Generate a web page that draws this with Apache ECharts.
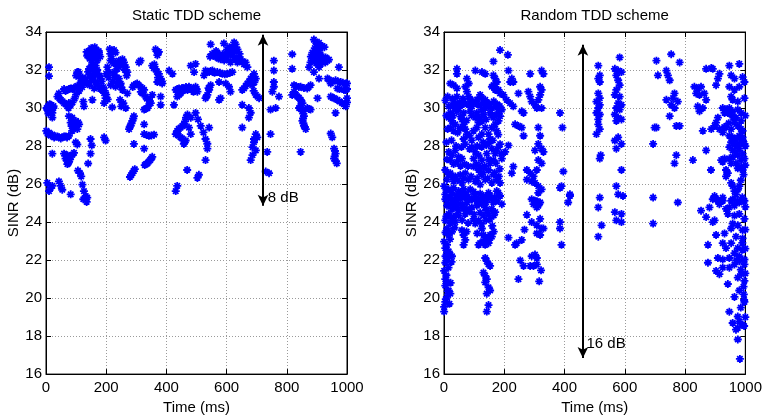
<!DOCTYPE html>
<html><head><meta charset="utf-8">
<script src="https://cdn.jsdelivr.net/npm/echarts/dist/echarts.min.js"></script>
<style>html,body{margin:0;padding:0;background:#fff}#c{width:765px;height:420px}</style>
</head><body><div id="c"></div>
<script>
// Static TDD scheme: [time (ms), SINR (dB)]
const staticPoints = [
[10,32.15],[10,31.68],[6.6,30.09],[15.5,30.17],[24.4,30.0],[10,29.83],[21,29.74],[4.4,29.92],[21,29.5],
[1,28.8],[10,28.7],[15.5,28.55],[21,28.6],[32,28.5],[43,28.46],[54,28.46],[65,28.5],[76,28.54],[21,27.6],
[43,26.14],[49,25.9],[54,25.7],[4.4,26.06],[15.5,25.8],[10,25.63],[21,25.9],[82,25.46],
[38,30.6],[49,30.43],[60,30.26],[71,30.09],[82,30.17],[43,30.77],[76,30.26],
[71,30.95],[82,31.03],[93,31.07],[104,31.17],[115,31.24],[126,31.34],[104,31.89],[110,31.72],[115,31.55],
[76,29.57],[87,29.49],[82,29.23],[99,29.32],[110,29.14],[93,28.97],[104,28.89],[87,28.8],[99,28.2],[104,28.08],
[60,27.6],[71,27.52],[82,27.43],[65,27.34],[76,27.17],[71,27.05],[93,27.64],[106,26.71],[113,26.57],[117,26.4],
[121,25.97],[126,25.63],[132,25.37],[124,25.2],[137,25.29],[135,25.06],[148,28.37],[152,28.03],[148,27.6],[140,27.08],
[124,30.34],[126,30.09],[154,30.43],[193,28.46],[198,28.29],
[143,33.0],[154,33.09],[165,33.05],[160,32.83],[148,32.75],[171,32.75],[137,32.75],[176,32.92],[154,32.4],[165,32.23],
[160,31.97],[171,31.8],[148,31.72],[182,31.55],[165,31.38],[176,31.12],[187,30.95],[193,30.78],[160,31.03],[143,32.06],
[132,31.55],[198,30.52],[193,30.26],
[220,33.0],[231,32.92],[215,32.49],[231,32.4],[242,32.49],[254,32.57],[259,32.4],[248,32.23],[237,32.06],[265,32.15],
[270,31.89],[226,31.72],[242,31.55],[248,31.29],[231,31.12],[254,30.95],[204,32.15],[209,31.89],[220,30.04],
[246,30.43],[257,30.26],[250,30.09],[265,30.0],[270,30.77],[292,31.2],[303,31.29],[314,31.12],[326,30.95],[320,30.77],
[314,32.49],[309,32.4],[331,30.6],[342,30.43],[348,30.26],[337,30.0],[326,29.92],[353,30.69],
[364,33.09],[375,32.95],[370,32.78],[353,32.23],[364,32.06],[375,31.8],[381,31.55],[370,31.37],[386,31.29],
[381,30.6],[381,30.17],[409,31.97],[420,31.8],[292,29.57],[287,29.32],[281,29.06],[276,28.89],
[326,29.14],[292,28.11],[326,27.86],[326,28.63],[342,28.54],[359,28.6],[353,27.43],[346,27.26],[337,27.09],[328,27.0],
[295,26.78],[287,26.57],[279,26.37],
[431,30.95],[442,31.03],[458,31.03],[475,31.12],[486,30.95],[447,30.77],[436,30.6],[425,30.17],[481,32.23],
[470,29.66],[481,29.49],[458,29.14],[447,28.97],[436,28.8],[431,28.63],[447,28.46],[464,28.29],[458,28.11],[481,28.63],[475,28.97],
[469,26.74],[436,25.9],[431,25.63],
[547,33.35],[591,33.4],[569,32.92],[586,32.83],[602,33.09],[613,32.83],[630,33.35],[636,33.09],[625,32.66],[647,32.57],
[602,32.57],[580,32.57],[663,32.4],[669,32.15],[558,32.75],[613,32.4],[636,32.4],
[530,31.97],[542,31.89],[553,31.97],[525,31.72],[569,31.89],[586,31.8],[602,31.8],[619,31.89],[497,32.32],[492,31.89],
[691,31.8],[680,31.55],[669,31.29],[658,31.03],[685,31.2],[697,31.55],[697,30.69],[708,30.52],
[575,31.37],[597,31.29],[608,31.12],[613,30.86],[580,30.52],[547,31.2],[542,30.95],[536,30.69],[530,30.52],[497,31.12],[503,30.86],
[652,30.17],[674,30.0],[680,29.75],[674,29.49],
[497,29.74],[505,29.4],[514,29.06],[523,28.72],[530,28.37],[536,28.12],[536,27.86],[542,28.97],[530,27.26],[508,26.49],[503,26.32],
[575,30.43],[652,28.97],[697,28.63],[691,28.37],[702,28.46],[691,28.2],[686,27.94],[697,27.77],[686,27.52],[680,27.26],
[746,28.63],[735,27.69],[730,26.66],[741,26.57],
[757,32.49],[757,31.97],[757,31.37],[757,31.12],[752,30.86],[774,30.6],[763,30.0],[746,29.92],[818,32.83],[818,32.06],
[890,33.6],[907,33.43],[918,33.26],[902,33.09],[885,32.92],[912,32.83],[929,32.66],[896,32.57],[879,32.4],[918,32.4],[935,32.49],[907,32.15],
[874,32.15],[890,31.89],
[824,31.2],[846,31.12],[868,31.03],[879,31.2],[818,30.69],[835,30.6],[846,30.43],[852,30.26],[841,30.0],[852,29.83],
[857,29.57],[852,29.32],[857,29.06],[863,28.89],[868,30.0],[879,29.92],[902,30.52],[907,31.55],[846,27.69],
[935,31.55],[946,31.29],[962,31.46],[979,31.37],[996,31.29],[996,30.95],[968,31.03],[946,30.6],[957,30.52],[973,32.15],
[968,30.43],[984,30.26],[996,30.09],[1000,30.52],[962,29.74],[946,28.66],[951,28.46],[957,27.86],[962,27.6],[957,27.34],[966,27.09],
[2,30.0],[12,30.2],[18,29.9],[8,29.7],[25,30.1],[5,28.65],[27,28.45],[38,28.5],[49,28.4],[60,28.5],[70,28.45],
[45,30.5],[55,30.35],[65,30.2],[75,30.0],[88,30.3],[95,30.5],[100,30.7],[110,30.9],[120,31.1],[130,31.4],[88,31.0],[77,31.0],[65,30.9],[60,31.0],
[100,31.7],[108,31.9],[118,31.4],[122,31.6],
[140,32.9],[150,33.15],[158,33.1],[168,32.9],[175,33.0],[145,32.6],[157,32.6],[170,32.5],[180,32.7],[135,32.95],[162,33.2],
[150,32.2],[158,32.1],[170,32.0],[178,31.7],[185,31.4],[190,31.1],[195,30.9],[155,31.6],[163,31.75],[140,31.9],[135,31.3],
[145,31.2],[150,31.45],[170,31.3],[180,31.0],[200,30.7],[205,30.45],
[218,32.6],[225,32.35],[235,32.2],[245,32.3],[252,32.45],[258,32.25],[262,32.0],[268,31.7],[228,31.9],[235,31.6],[240,31.35],
[250,31.1],[222,31.4],[215,31.2],[208,31.6],[200,31.8],[212,33.1],[226,33.05],[214,32.85],
[298,31.25],[308,31.2],[320,31.05],[315,30.85],[288,31.1],[335,30.5],[345,30.35],[340,30.1],[330,29.95],
[358,32.1],[368,31.9],[372,31.6],[378,31.45],[360,32.3],[385,31.4],[368,33.0],[372,32.9],
[437,31.0],[452,31.05],[465,31.1],[480,31.05],[490,30.85],[442,30.7],[455,30.9],[470,30.95],
[465,29.5],[462,29.3],[453,29.05],[441,28.9],[435,28.7],[440,28.55],[452,28.4],[460,28.2],
[290,29.45],[284,29.2],[278,29.0],[334,28.58],[350,28.55],[350,27.35],[341,27.18],[332,27.05],[291,26.68],[283,26.47],
[66,27.5],[77,27.45],[88,27.55],[70,27.25],[80,27.3],[74,27.1],[90,29.25],[95,29.1],[100,29.0],[107,29.25],[85,29.05],
[552,32.85],[563,32.7],[575,32.75],[590,32.7],[597,32.9],[608,32.95],[620,32.75],[630,32.55],[640,32.65],[652,32.45],
[658,32.3],[620,33.2],[627,33.0],[643,32.85],[592,32.5],[565,33.0],[545,32.7],[609,33.2],[625,33.45],[573,32.6],
[535,31.9],[547,31.95],[560,31.85],[578,31.85],[594,31.78],[611,31.85],
[686,31.65],[675,31.4],[663,31.15],[692,31.35],[703,30.6],[690,30.9],[652,30.95],[500,31.0],[540,31.05],[533,30.6],
[895,33.5],[900,33.35],[912,33.3],[925,33.2],[908,33.05],[895,32.95],[890,32.75],[903,32.7],[920,32.6],[885,32.6],
[915,32.5],[928,32.4],[940,32.55],[898,32.35],[912,32.3],[880,32.7],[893,33.15],
[830,31.15],[840,31.1],[857,31.05],[872,31.1],[824,30.85],[830,30.7],[840,30.55],[848,30.35],[845,30.1],[848,29.95],
[855,29.7],[854,29.45],[855,29.2],[860,29.0],[874,29.95],
[940,31.5],[952,31.4],[970,31.4],[986,31.33],[1000,31.3],[990,30.95],[975,31.0],[952,30.55],[975,30.35],[990,30.2],[1000,30.3],[1000,31.0],
[960,27.75],[959,27.45],[963,27.2]
];

// Random TDD scheme: [time (ms), SINR (dB)]
const randomPoints = [
[186,33.05],[212,32.8],[164,32.45],[43,32.06],[43,31.8],[104,31.97],[126,31.89],[137,31.8],[164,31.72],[170,31.55],
[175,31.37],[164,31.2],[170,31.03],[181,30.95],[186,30.77],[214,31.97],[225,31.55],[230,31.37],[220,31.37],[286,31.8],
[324,31.97],[330,31.8],[247,30.77],[197,30.69],[208,30.43],[219,30.26],[230,30.09],[258,29.83],[264,29.74],[280,30.86],
[286,30.6],[291,30.34],[302,30.17],[313,30.43],[319,30.69],[324,30.95],[319,31.12],[308,30.0],[324,30.0],[313,28.97],
[319,28.54],[313,28.11],[324,27.86],[330,27.69],[302,27.77],[313,27.26],[324,27.09],[264,28.54],[247,29.06],[258,28.97],
[236,29.14],[214,28.03],[203,27.69],[230,26.92],[225,26.57],[275,26.74],[286,26.57],[275,26.23],[291,26.14],[302,26.06],
[313,25.89],[324,25.72],[313,25.54],[297,26.4],[308,26.74],[291,25.2],[308,25.1],[319,25.03],[297,24.94],[313,24.86],
[385,29.74],[393,28.97],[396,26.66],[385,25.8],[390,25.89],[418,25.46],[412,25.03],
[21,31.29],[32,31.2],[43,31.03],[43,30.6],[76,31.55],[82,31.29],[71,31.12],[76,30.86],[82,30.6],[126,30.52],[137,30.43],[120,30.69],[159,31.12],[170,30.95],
[15.5,30.09],[26.5,30.17],[37.5,30.26],[48.5,30.0],[59.6,30.17],[70.6,30.26],[81.6,30.17],[92.6,30.09],[103.7,30.26],[114.7,30.17],
[125.7,29.92],[136.8,30.0],[147.8,30.09],[158.8,30.0],[169.8,30.09],[180.9,30.0],[191.9,29.92],[21,29.74],[43,29.83],[65,29.74],
[87,29.83],[109,29.74],[131,29.66],[153,29.74],[175,29.66],
[15.5,29.49],[26.5,29.32],[21,28.97],[32,28.8],[37.5,29.14],[59.6,29.4],[65,29.14],[70.6,28.89],[76,28.63],[65,28.37],
[103.7,29.49],[114.7,29.23],[109,28.97],[98,28.8],[125.7,29.32],[136.8,28.97],[147.8,28.63],[153,28.37],[158.8,28.97],[169.8,29.14],
[180.9,29.32],[186,29.57],[164,29.49],[175,28.8],[125.7,28.63],
[15.5,27.69],[26.5,27.52],[37.5,27.77],[48.5,27.43],[59.6,27.34],[21,27.26],[43,27.17],[92.6,27.94],[103.7,27.69],[114.7,27.52],
[98,27.34],[125.7,27.26],[142,27.6],[158.8,27.86],[169.8,27.6],[164,27.26],[153,27.09],[180.9,27.94],[191.9,27.34],
[4.4,26.74],[21,26.57],[37.5,26.4],[54,26.49],[70.6,26.57],[81.6,26.23],[59.6,26.06],[32,26.14],[10,26.23],[98,26.92],
[114.7,26.74],[125.7,26.49],[136.8,26.23],[103.7,26.14],[120,25.97],[147.8,26.74],[164,26.49],[175,26.23],[158.8,26.06],[186,26.06],
[0.5,25.89],[15.5,25.72],[32,25.8],[48.5,25.63],[4.4,25.46],[21,25.29],[37.5,25.2],[59.6,25.37],[70.6,25.54],[87,25.72],
[103.7,25.46],[92.6,25.2],[114.7,25.2],[131,25.37],[147.8,25.54],[158.8,25.2],[175,25.63],[186,25.37],[191.9,24.94],[26.5,25.03],
[54,24.94],[76,25.03],[125.7,24.94],
[4.4,25.2],[21,25.29],[37.5,25.12],[54,25.2],[70.6,25.29],[92.6,25.2],[109,25.12],[125.7,25.2],[147.8,25.29],[164,25.03],
[175,25.12],[10,24.86],[26.5,24.69],[43,24.77],[59.6,24.86],[76,24.69],[92.6,24.77],[109,24.86],[136.8,24.77],[158.8,24.69],
[15.5,24.43],[32,24.26],[48.5,24.34],[70.6,24.43],[98,24.17],[114.7,24.09],[103.7,23.92],[131,24.34],[147.8,24.43],[153,24.17],
[169.8,24.52],[4.4,24.09],[21,23.92],[37.5,24.0],[10,23.66],[26.5,23.49],[15.5,23.32],[59.6,23.57],[65,23.32],[70.6,23.06],
[65,22.8],[114.7,22.8],[120,22.89],[131,23.32],[142,23.14],[153,23.32],[158.8,23.23],[147.8,22.89],[136.8,22.8],[125.7,23.66],
[0.5,22.97],[10,22.8],[4.4,22.63],[15.5,22.46],[21,22.29],[10,22.11],[26.5,22.2],[4.4,21.86],[0.5,21.43],[4.4,21.0],
[10,20.83],[4.4,20.66],[15.5,20.4],[21,20.23],[10,20.06],[4.4,19.8],[0.5,19.54],[0.5,19.29],
[136.8,22.11],[142,21.94],[147.8,21.77],[153,21.69],[131,21.34],[136.8,21.17],[142,21.0],[136.8,20.83],[147.8,20.57],[153,20.4],
[142,20.23],[147.8,19.63],[142,19.29],
[214,23.18],[241,22.88],[258,23.06],[236,22.8],[253,21.98],[264,21.69],[247,21.0],[291,22.2],[302,22.29],[308,22.11],
[286,21.69],[297,21.69],[308,21.77],[322,21.46],[316,20.88],[275,24.38],[267,23.6],[302,25.12],[313,24.94],[308,24.77],
[291,24.0],[308,23.83],[319,24.17],[324,23.66],[308,23.4],[319,23.32],[330,23.66],[385,24.0],[385,23.66],[390,22.8],[418,25.37],
[512,32.23],[517,31.72],[512,31.55],[517,31.37],[512,30.77],[517,30.52],[506,30.34],[517,30.17],[512,30.0],[506,29.74],
[517,29.66],[512,29.4],[512,29.14],[517,28.89],[506,28.63],[520,27.52],[517,27.34],
[583,32.66],[567,32.06],[578,31.97],[589,31.89],[572,31.72],[578,31.46],[583,31.2],[572,30.95],[567,30.69],[583,30.6],
[578,30.26],[589,30.17],[572,30.0],[583,29.92],[567,29.66],[578,29.49],[589,29.4],[572,29.32],[578,28.46],[567,28.29],
[589,28.11],[572,27.86],[589,26.74],[572,25.89],[578,25.46],[594,25.37],
[705,32.49],[754,32.83],[782,32.4],[710,31.72],[738,31.97],[743,31.72],[749,31.46],[765,30.77],[738,30.43],[760,30.52],
[776,30.34],[754,30.17],[765,30.0],[749,29.57],[699,28.97],[705,28.97],[694,28.11],[771,29.06],[782,29.06],[771,27.52],[765,27.09],
[831,31.12],[842,31.03],[853,31.12],[837,30.77],[848,30.69],[864,30.77],[870,30.43],[842,30.09],[848,29.83],[859,30.0],
[826,27.26],[870,27.77],[886,26.74],[859,28.8],[870,32.06],[887,32.1],[892,32.06],[914,31.8],[909,31.55],[903,31.2],
[947,32.23],[980,32.32],[953,31.72],[964,31.55],[947,31.12],[964,30.95],[980,31.12],[991,31.63],[997,31.37],[997,30.52],
[953,30.6],[958,30.43],[975,30.34],[925,30.0],[936,29.92],[947,30.0],[958,29.83],[942,29.74],[953,29.66],[931,29.74],
[975,29.92],[986,29.74],[909,29.49],[903,29.23],[898,29.06],[887,28.89],
[914,28.89],[925,28.72],[936,28.97],[953,28.89],[975,29.06],[964,29.23],[969,29.49],[986,29.32],[991,28.8],
[947,28.54],[958,28.46],[969,28.37],[980,28.54],[991,28.46],[953,28.2],[964,28.11],[975,28.03],[986,28.2],[997,28.11],
[947,27.94],[958,27.77],[969,27.69],[980,27.86],[991,27.6],[975,27.52],[958,27.43],[947,27.34],[986,27.26],[997,27.34],
[953,27.09],[969,27.09],[986,26.92],[975,26.83],[991,26.74],[920,27.26],[925,27.17],[931,27.34],[936,26.74],[942,26.57],[936,26.4],
[953,26.06],[958,25.89],[964,25.63],[969,25.46],[958,25.2],[975,25.12],[898,25.37],[892,25.2],[925,25.29],[909,25.12],[980,25.89],
[517,25.29],[512,24.77],[523,23.83],[512,23.23],[567,24.52],[589,24.43],[572,24.09],[589,24.0],[694,25.29],[694,23.92],[776,25.03],
[853,24.6],[870,24.26],[881,24.77],[892,24.0],[898,24.09],[903,23.32],
[903,25.2],[914,24.94],[925,25.12],[936,24.69],[953,25.12],[947,24.77],[964,24.86],[980,25.03],[997,25.12],[942,24.43],
[964,24.34],[980,24.43],[997,24.17],[958,23.92],[975,23.83],[991,23.57],[953,23.66],[931,23.4],[969,23.23],[991,23.14],
[953,22.89],[925,22.89],[936,22.63],[975,22.63],[991,22.54],[964,22.37],[980,22.2],[997,22.03],[947,22.11],[925,22.03],
[909,22.11],[876,22.8],[876,21.86],[903,21.43],[914,21.26],[925,21.6],[947,21.6],[964,21.77],[980,21.94],[997,21.77],
[975,21.08],[986,21.26],[997,20.91],[942,20.74],[980,20.4],[964,20.06],[997,19.8],[947,19.28],[975,19.03],[980,18.77],
[958,18.69],[975,18.43],[991,18.6],[969,18.34],[975,17.82],[982,16.8],[996,18.53],[996,19.9],[994,20.6],
[5,30.4],[12,30.6],[28,30.5],[35,30.0],[52,30.3],[63,30.5],[88,30.45],[96,30.3],[110,30.45],[130,30.25],[142,30.3],[150,30.2],[165,30.35],[176,30.2],[185,30.1],
[8,29.6],[30,29.6],[55,29.55],[75,29.35],[92,29.6],[118,29.5],[140,29.4],[160,29.6],[180,29.7],
[12,28.9],[45,28.7],[55,28.95],[85,28.55],[92,28.3],[115,28.45],[130,28.2],[140,28.05],[162,28.3],[180,28.6],[186,28.1],
[8,28.2],[25,28.3],[40,28.0],[58,27.95],[70,28.1],[85,27.85],[110,28.0],[125,27.95],[150,28.15],[172,27.75],[190,27.6],
[10,27.3],[32,27.05],[55,26.95],[68,27.05],[80,26.95],[108,27.05],[120,26.9],[135,26.95],[148,27.3],[172,27.1],[185,26.8],
[15,26.5],[28,26.35],[45,26.2],[65,26.3],[90,26.4],[110,26.3],[130,26.6],[145,26.3],[168,26.6],[182,26.4],
[8,25.7],[25,25.55],[40,25.4],[55,25.5],[65,25.75],[80,25.35],[98,25.6],[120,25.5],[140,25.05],[152,25.4],[168,25.3],[180,25.55],
[15,24.95],[35,24.85],[48,24.6],[65,24.7],[85,24.55],[100,24.4],[120,24.5],[142,24.6],[165,24.35],
[8,24.3],[25,24.1],[40,24.35],[60,24.1],[80,23.95],[125,23.9],[140,24.1],[160,23.8],
[5,23.45],[20,23.1],[35,23.7],[75,23.5],[110,23.4],[130,23.0],[150,23.05],[165,23.5],
[10,22.4],[5,22.2],[25,21.9],[15,21.6],[8,21.2],[22,20.8],[12,20.35],[6,19.95],[18,19.7],
[960,29.5],[945,29.2],[930,29.0],[985,28.9],[992,28.3],[1000,28.0],[1000,27.0],[1000,29.6],[994,26.5],[985,26.2],
[975,25.7],[990,25.3],[1000,24.8],[1000,23.6],[1000,22.6],[990,22.9],[970,22.0],[985,21.5],[1000,21.3],[995,20.2],[985,19.5],[1000,19.0]
];

const panelTitles = ['Static TDD scheme', 'Random TDD scheme'];
const xName = 'Time (ms)';
const yName = 'SINR (dB)';
const xRange = [0, 1000], xStep = 200;
const yRange = [16, 34], yStep = 2;
// annotation arrows: time position, start SINR, end SINR, label text, label anchor
const staticArrow = { t: 721, from: 33.86, to: 24.86, text: '8 dB', lt: 737, lv: 25.25 };
const randomArrow = { t: 461, from: 33.33, to: 16.85, text: '16 dB', lt: 473, lv: 17.58 };

const FONT = "'Liberation Sans', Arial, Helvetica, sans-serif";
const ast = 'path://M0,5L10,5M5,0L5,10M1.6,1.6L8.4,8.4M8.4,1.6L1.6,8.4';

const grids = [
  { left: 46, top: 32, width: 301, height: 350 },
  { left: 444, top: 32, width: 302, height: 350 }
];
const xAxes = [], yAxes = [], series = [];
const dataSets = [staticPoints, randomPoints];
const arrows = [staticArrow, randomArrow];
grids.forEach((g, i) => {
  g.show = true; g.borderColor = '#000'; g.borderWidth = 1; g.backgroundColor = '#fff';
  const tick = { inside: true, length: 5, lineStyle: { color: '#000', width: 1 } };
  const line = { show: true, onZero: false, lineStyle: { color: '#000', width: 1 } };
  xAxes.push({
    type: 'value', gridIndex: i, min: xRange[0], max: xRange[1], interval: xStep, position: 'bottom',
    axisLine: line, axisTick: tick,
    axisLabel: { color: '#000', fontSize: 15, fontFamily: FONT, margin: 6, formatter: v => String(v) },
    splitLine: { show: true, lineStyle: { color: '#9a9a9a', type: [1, 2], width: 1 } },
    name: xName, nameLocation: 'middle', nameGap: 18,
    nameTextStyle: { color: '#000', fontSize: 15, fontFamily: FONT }
  });
  xAxes.push({
    type: 'value', gridIndex: i, min: xRange[0], max: xRange[1], interval: xStep, position: 'top',
    axisLine: line, axisTick: tick, axisLabel: { show: false }, splitLine: { show: false },
    name: panelTitles[i], nameLocation: 'middle', nameGap: 9,
    nameTextStyle: { color: '#000', fontSize: 15, fontFamily: FONT }
  });
  yAxes.push({
    type: 'value', gridIndex: i, min: yRange[0], max: yRange[1], interval: yStep, position: 'left',
    axisLine: line, axisTick: tick,
    axisLabel: { color: '#000', fontSize: 15, fontFamily: FONT, margin: 4 },
    splitLine: { show: true, lineStyle: { color: '#9a9a9a', type: [1, 2], width: 1 } },
    name: yName, nameLocation: 'middle', nameGap: 24, nameRotate: 90,
    nameTextStyle: { color: '#000', fontSize: 15, fontFamily: FONT }
  });
  yAxes.push({
    type: 'value', gridIndex: i, min: yRange[0], max: yRange[1], interval: yStep, position: 'right',
    axisLine: line, axisTick: tick, axisLabel: { show: false }, splitLine: { show: false }
  });
  const a = arrows[i];
  series.push({
    type: 'scatter', xAxisIndex: i * 2, yAxisIndex: i * 2, data: dataSets[i],
    symbol: ast, symbolSize: 8, clip: false,
    itemStyle: { color: 'rgba(0,0,0,0)', borderColor: '#0000ff', borderWidth: 1.8, opacity: 1 },
    emphasis: { disabled: true },
    markLine: {
      silent: true, symbol: ['arrow', 'arrow'], symbolSize: [8, 11],
      lineStyle: { color: '#000', width: 2, type: 'solid' }, label: { show: false },
      emphasis: { disabled: true },
      data: [[{ coord: [a.t, a.from] }, { coord: [a.t, a.to] }]]
    },
    markPoint: {
      silent: true, symbol: 'circle', symbolSize: 0,
      data: [{ coord: [a.lt, a.lv], label: { show: true, position: 'right', distance: 0, formatter: a.text, color: '#000', fontSize: 15, fontFamily: FONT } }]
    }
  });
});

const chart = echarts.init(document.getElementById('c'), null, { renderer: 'canvas' });
chart.setOption({
  animation: false,
  backgroundColor: '#fff',
  grid: grids, xAxis: xAxes, yAxis: yAxes, series: series
});
</script></body></html>
